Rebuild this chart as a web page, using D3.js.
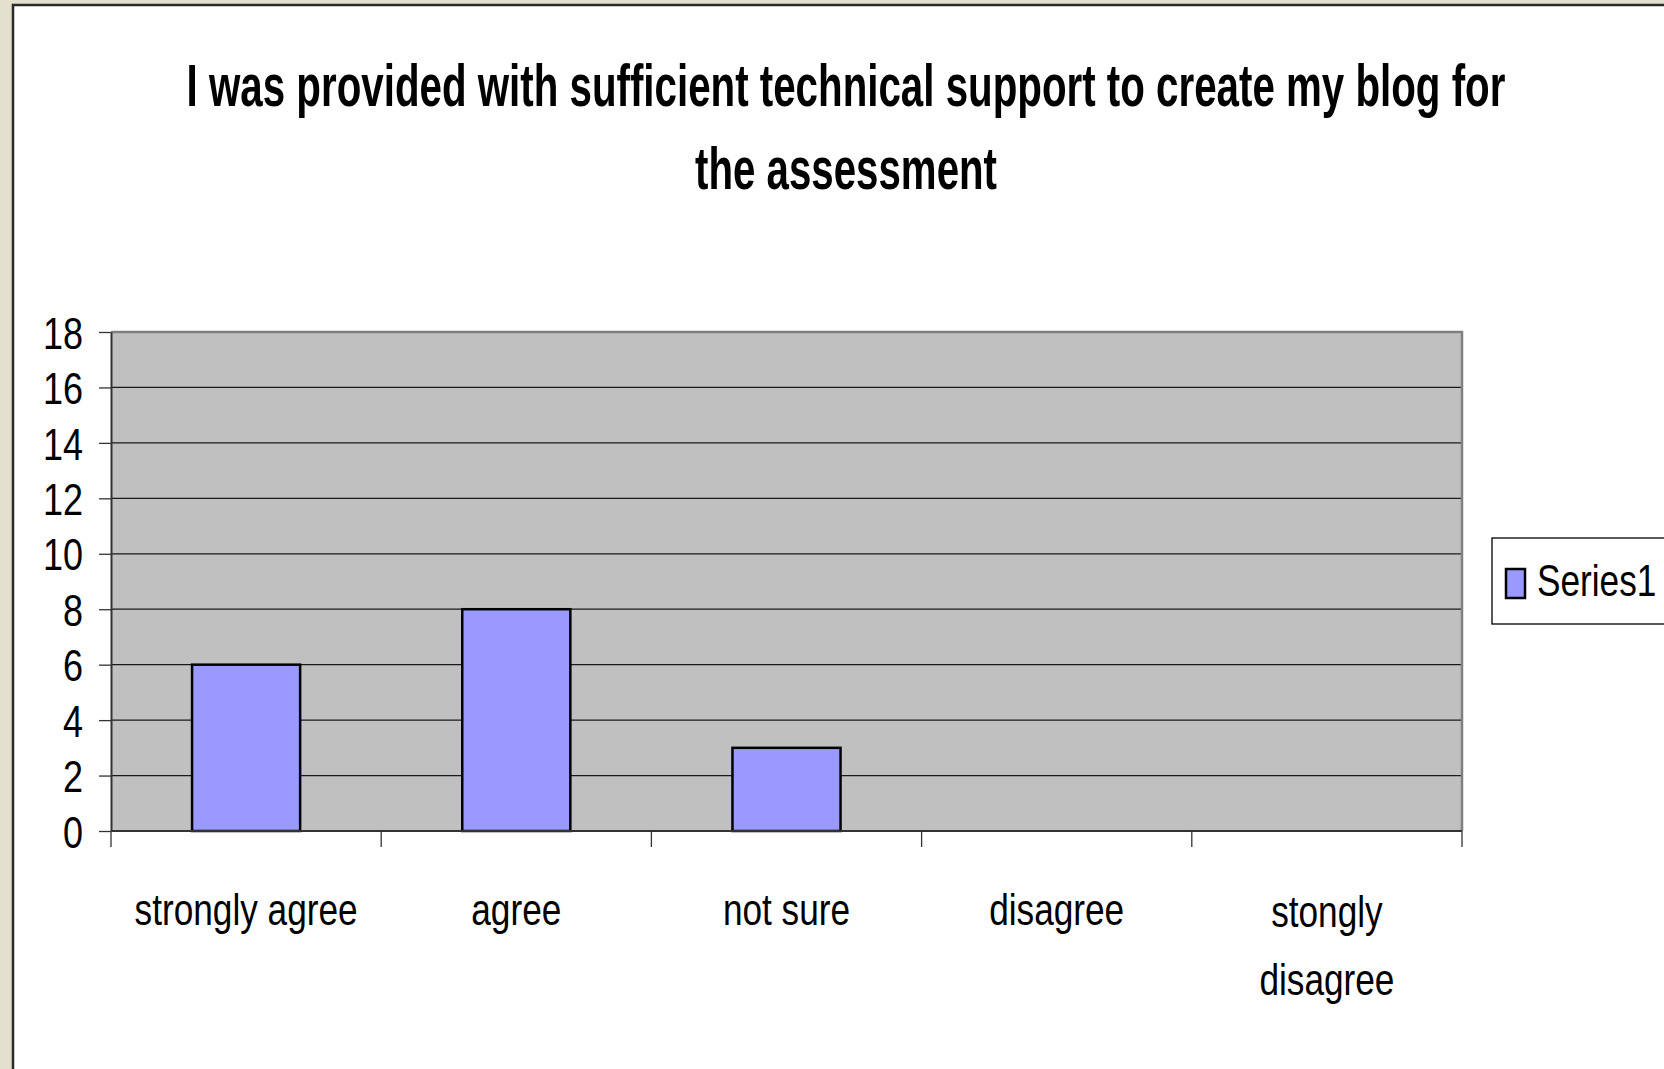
<!DOCTYPE html>
<html>
<head>
<meta charset="utf-8">
<script src="https://cdn.jsdelivr.net/npm/d3@7"></script>
<style>
  html, body { margin: 0; padding: 0; background: #e3e1cd; }
  svg { display: block; }
  text { font-family: "Liberation Sans", Arial, sans-serif; fill: #000; }
</style>
</head>
<body>
<svg id="chart" width="1664" height="1069"></svg>
<script>
const titleLines = ["I was provided with sufficient technical support to create my blog for", "the assessment"];
const categories = ["strongly agree", "agree", "not sure", "disagree", "stongly disagree"];
const categoryLines = [["strongly agree"], ["agree"], ["not sure"], ["disagree"], ["stongly", "disagree"]];
const series1 = [6, 8, 3, 0, 0];
const yTicks = [0, 2, 4, 6, 8, 10, 12, 14, 16, 18];
const seriesName = "Series1";

const svg = d3.select("#chart");
const W = 1664, H = 1069;
const plot = { left: 111, right: 1462, top: 332, bottom: 831 };
const narrow = 0.8;

// background panel
svg.append("rect").attr("x", 0).attr("y", 0).attr("width", W).attr("height", H).attr("fill", "#e3e1cd");
svg.append("rect").attr("x", 13).attr("y", 5).attr("width", W).attr("height", H)
  .attr("fill", "#fff").attr("stroke", "#2a2a2a").attr("stroke-width", 2.5);

// title (bold, condensed by horizontal scaling to the reference width)
const titleWidths = [1319, 302];
const titleBase = [106, 189];
titleLines.forEach((t, i) => {
  const el = svg.append("text")
    .attr("text-anchor", "middle").attr("font-weight", "bold").attr("font-size", 59)
    .text(t);
  const natural = el.node().getComputedTextLength();
  const s = titleWidths[i] / natural;
  el.attr("transform", `translate(846,${titleBase[i]}) scale(${s},1)`);
});

const x = d3.scaleBand().domain(categories).range([plot.left, plot.right]).paddingInner(0.6).paddingOuter(0.3);
const xb = d3.scaleBand().domain(categories).range([plot.left, plot.right]);
const y = d3.scaleLinear().domain([0, 18]).range([plot.bottom, plot.top]);

// plot area
svg.append("rect").attr("x", plot.left).attr("y", plot.top)
  .attr("width", plot.right - plot.left).attr("height", plot.bottom - plot.top)
  .attr("fill", "#c0c0c0");

// gridlines
svg.append("g").selectAll("line").data(yTicks.filter(d => d > 0 && d < 18)).join("line")
  .attr("x1", plot.left).attr("x2", plot.right)
  .attr("y1", d => y(d)).attr("y2", d => y(d))
  .attr("stroke", "#1a1a1a").attr("stroke-width", 1.3);

// plot border (top/right gray)
svg.append("path")
  .attr("d", `M${plot.left},${plot.top}H${plot.right}V${plot.bottom}`)
  .attr("fill", "none").attr("stroke", "#808080").attr("stroke-width", 2.5);

// bars
svg.append("g").selectAll("rect").data(series1.map((v, i) => ({ c: categories[i], v })).filter(d => d.v > 0)).join("rect")
  .attr("x", d => x(d.c)).attr("width", x.bandwidth())
  .attr("y", d => y(d.v)).attr("height", d => y(0) - y(d.v))
  .attr("fill", "#9999ff").attr("stroke", "#000").attr("stroke-width", 2.5);

// y axis
const yAxis = svg.append("g").attr("transform", `translate(${plot.left},0)`)
  .call(d3.axisLeft(y).tickValues(yTicks).tickSize(12).tickPadding(16).tickSizeOuter(0));
yAxis.select(".domain").attr("stroke", "#333").attr("stroke-width", 2);
yAxis.selectAll(".tick line").attr("stroke", "#333").attr("stroke-width", 1.3);
yAxis.selectAll(".tick text").attr("font-size", 45).attr("font-family", "Liberation Sans, Arial, sans-serif")
  .attr("dy", "0.36em")
  .attr("transform", `scale(${narrow},1)`)
  .each(function () {
    const t = d3.select(this);
    t.attr("x", (+t.attr("x")) / narrow);
  });

// x axis
const xAxisG = svg.append("g").attr("transform", `translate(0,${plot.bottom})`);
xAxisG.append("line").attr("x1", plot.left).attr("x2", plot.right).attr("y1", 0).attr("y2", 0)
  .attr("stroke", "#333").attr("stroke-width", 2);
const boundaries = categories.map(c => xb(c)).concat([plot.right]);
xAxisG.selectAll("line.tk").data(boundaries).join("line").attr("class", "tk")
  .attr("x1", d => d).attr("x2", d => d).attr("y1", 0).attr("y2", 16)
  .attr("stroke", "#333").attr("stroke-width", 1.3);

categoryLines.forEach((lines, i) => {
  const cx = xb(categories[i]) + xb.bandwidth() / 2;
  const base = lines.length === 1 ? 925 : 927;
  lines.forEach((ln, j) => {
    svg.append("text")
      .attr("transform", `translate(${cx},${base + j * 68}) scale(${narrow},1)`)
      .attr("text-anchor", "middle").attr("font-size", 44).text(ln);
  });
});

// legend
const lg = svg.append("g");
lg.append("rect").attr("x", 1492).attr("y", 538).attr("width", 200).attr("height", 86)
  .attr("fill", "#fff").attr("stroke", "#000").attr("stroke-width", 1.3);
lg.append("rect").attr("x", 1506).attr("y", 569).attr("width", 19).attr("height", 29)
  .attr("fill", "#9999ff").attr("stroke", "#000").attr("stroke-width", 2.5);
lg.append("text").attr("transform", `translate(1537,596) scale(${narrow},1)`)
  .attr("font-size", 44).text(seriesName);
</script>
</body>
</html>
